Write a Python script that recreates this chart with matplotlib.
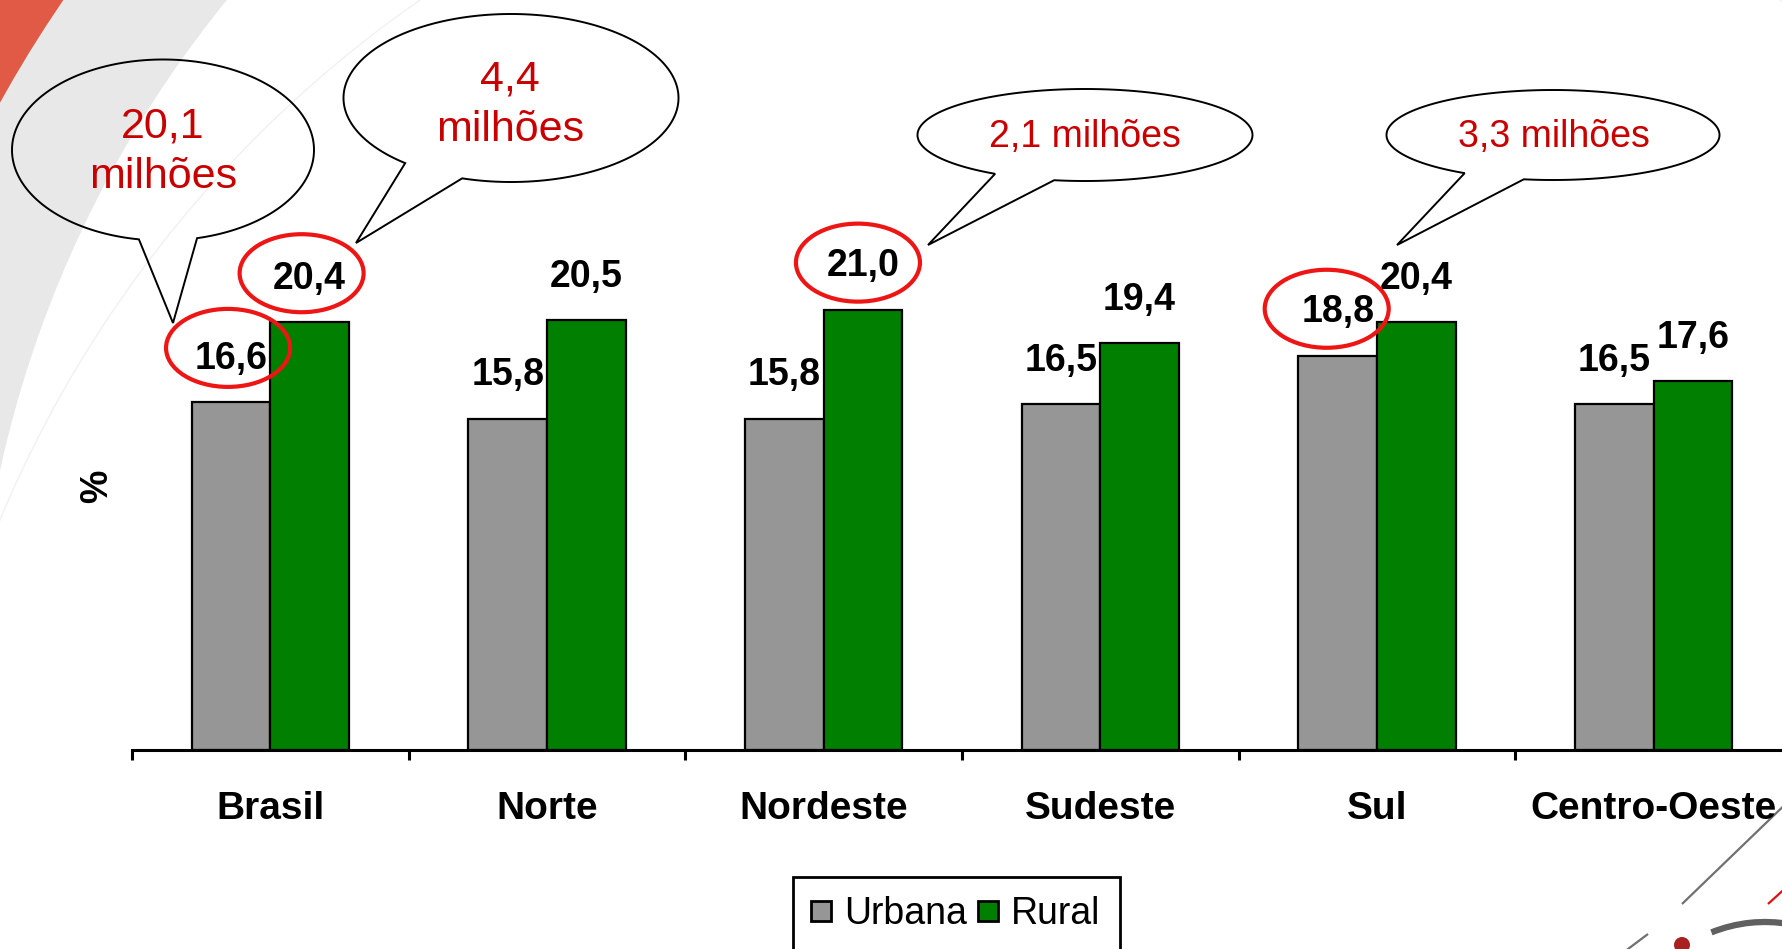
import numpy as np
import matplotlib
matplotlib.use('Agg')
import matplotlib.pyplot as plt
from matplotlib.patches import Circle, Rectangle, Ellipse, Polygon, Arc
from matplotlib.lines import Line2D

plt.rcParams['font.family'] = ['Liberation Sans', 'DejaVu Sans']

# ---------------- data ----------------
regions = ['Brasil', 'Norte', 'Nordeste', 'Sudeste', 'Sul', 'Centro-Oeste']
urbana = [16.6, 15.8, 15.8, 16.5, 18.8, 16.5]
rural = [20.4, 20.5, 21.0, 19.4, 20.4, 17.6]
series_names = ['Urbana', 'Rural']
# highlighted labels: (series index, region index)
highlight = [(0, 0), (1, 0), (1, 2), (0, 4)]
callout_texts = ['20,1\nmilhões', '4,4\nmilhões', '2,1 milhões', '3,3 milhões']


def fmt(v):
    return f'{v:.1f}'.replace('.', ',')


# ---------------- style / layout ----------------
W, H = 1782, 949
GRAY = '#969696'
GREEN = '#007F00'
RED_TXT = '#C80000'
RED_RING = '#EE1515'
PX_PER_UNIT = 20.97
BASE_Y = 750          # pixel row of x axis
ring_offsets = [(-3, -54), (-8, -49), (-5, -47), (-11, -47)]  # px from bar top

fig = plt.figure(figsize=(W / 100, H / 100), dpi=100)

# background decoration (pixel coordinates, y downwards)
bg = fig.add_axes([0, 0, 1, 1], zorder=0)
bg.set_xlim(0, W)
bg.set_ylim(H, 0)
bg.axis('off')
bg.add_patch(Rectangle((0, 0), W, H, fc='#E05A45', ec='none'))
bg.add_patch(Circle((1100, 711), 1257, fc='#E8E8E8', ec='none'))
bg.add_patch(Circle((1100, 711), 1126, fc='white', ec='none'))
bg.add_patch(Circle((1100, 979), 1192, fill=False, ec='#F1F1F1', lw=1.0))
# bottom-right logo fragments
bg.plot([1682, 1795], [904, 795], color='#707070', lw=1.6, solid_capstyle='butt')
bg.plot([1620, 1648], [955, 934], color='#707070', lw=1.6, solid_capstyle='butt')
bg.plot([1768, 1790], [904, 884], color='#E01010', lw=1.6, solid_capstyle='butt')
bg.add_patch(Arc((1765, 1065), 286, 286, theta1=-112, theta2=-80,
                 color='#606060', lw=4.5))
bg.add_patch(Circle((1682, 945), 8, fc='#A82020', ec='none'))

# main chart axes
ax = fig.add_axes([132 / W, (H - BASE_Y) / H, 1660 / W, BASE_Y / H], zorder=1)
ax.set_facecolor('none')
x = np.arange(len(regions))
bw = 0.284
ax.bar(x - bw / 2, urbana, bw, color=GRAY, edgecolor='black', lw=1.6,
       label=series_names[0], zorder=2)
ax.bar(x + bw / 2, rural, bw, color=GREEN, edgecolor='black', lw=1.6,
       label=series_names[1], zorder=2)
ax.set_xlim(-0.5, len(regions) - 0.5)
ax.set_ylim(0, BASE_Y / PX_PER_UNIT)

for s in ['left', 'right', 'top']:
    ax.spines[s].set_visible(False)
ax.spines['bottom'].set_linewidth(2.2)
ax.set_yticks([])
ax.set_xticks(np.arange(-0.5, len(regions), 1.0))
ax.set_xticklabels([])
ax.tick_params(axis='x', which='major', direction='out', length=7.5, width=2.2)
ax.set_xticks(x, minor=True)
ax.set_xticklabels(regions, minor=True, fontsize=28, fontweight='bold')
ax.tick_params(axis='x', which='minor', length=0, pad=29.5)

ax.set_ylabel('%', fontsize=27, fontweight='bold')
ax.yaxis.set_label_coords(-0.0102, (BASE_Y - 486) / BASE_Y)

# value labels
xpos = [x - bw / 2, x + bw / 2]
vals = [urbana, rural]
for si in range(2):
    for ci in range(len(regions)):
        ax.annotate(fmt(vals[si][ci]), (xpos[si][ci], vals[si][ci]),
                    xytext=(0, 24), textcoords='offset points',
                    ha='center', va='baseline', fontsize=27,
                    fontweight='bold', zorder=3)

# foreground annotation layer (pixel coords, y downwards)
fg = fig.add_axes([0, 0, 1, 1], zorder=3)
fg.set_xlim(0, W)
fg.set_ylim(H, 0)
fg.axis('off')
fg.set_facecolor('none')

inv = fg.transData.inverted()
for (si, ci), (ox, oy) in zip(highlight, ring_offsets):
    dx, dy = ax.transData.transform((xpos[si][ci], vals[si][ci]))
    px, py = inv.transform((dx, dy))
    fg.add_patch(Ellipse((px + ox, py + oy), 124, 78, fill=False,
                         ec=RED_RING, lw=3.0))


def bubble(cx, cy, w, h, b1, b2, tip):
    a, b = w / 2, h / 2
    t1 = np.arctan2((b1[1] - cy) / b, (b1[0] - cx) / a)
    t2 = np.arctan2((b2[1] - cy) / b, (b2[0] - cx) / a)
    short = (t2 - t1 + np.pi) % (2 * np.pi) - np.pi
    long_ = short - np.sign(short) * 2 * np.pi
    th = t1 + np.linspace(0, long_, 300)
    pts = np.column_stack([cx + a * np.cos(th), cy + b * np.sin(th)])
    pts = np.vstack([pts, [tip]])
    fg.add_patch(Polygon(pts, closed=True, fill=False, ec='black', lw=1.4,
                         joinstyle='miter'))


bubbles = [
    dict(c=(163, 150), w=302, h=181, b1=(139, 239), b2=(197, 238), tip=(173, 323),
         t=(163, 152), fs=31),
    dict(c=(511, 98), w=335, h=168, b1=(407, 162), b2=(463, 177), tip=(356, 243),
         t=(510, 105), fs=31),
    dict(c=(1085, 135), w=335, h=92, b1=(997, 173), b2=(1055, 179), tip=(928, 245),
         t=(1085, 137), fs=27),
    dict(c=(1553, 135), w=333, h=90, b1=(1465, 173), b2=(1524, 179), tip=(1397, 245),
         t=(1554, 137), fs=27),
]
for bd, txt in zip(bubbles, callout_texts):
    bubble(bd['c'][0], bd['c'][1], bd['w'], bd['h'], bd['b1'], bd['b2'], bd['tip'])
    fg.text(bd['t'][0], bd['t'][1], txt, ha='center', va='center',
            fontsize=bd['fs'], color=RED_TXT, linespacing=1.33)

handles = [Line2D([], [], ls='none', marker='s', markersize=14.5, mfc=GRAY,
                  mec='black', mew=2),
           Line2D([], [], ls='none', marker='s', markersize=14.5, mfc=GREEN,
                  mec='black', mew=2)]
leg = fig.legend(handles, series_names, loc='upper center',
                 bbox_to_anchor=(956 / W, (H - 877) / H), ncol=2, fontsize=27,
                 frameon=True, fancybox=False, edgecolor='black', framealpha=1,
                 handlelength=0.53, handleheight=0.7, handletextpad=0.35,
                 columnspacing=0.3, borderpad=0.5, borderaxespad=0)
leg.get_frame().set_linewidth(2)
leg.set_zorder(10)

fig.savefig('out.png', dpi=100)
